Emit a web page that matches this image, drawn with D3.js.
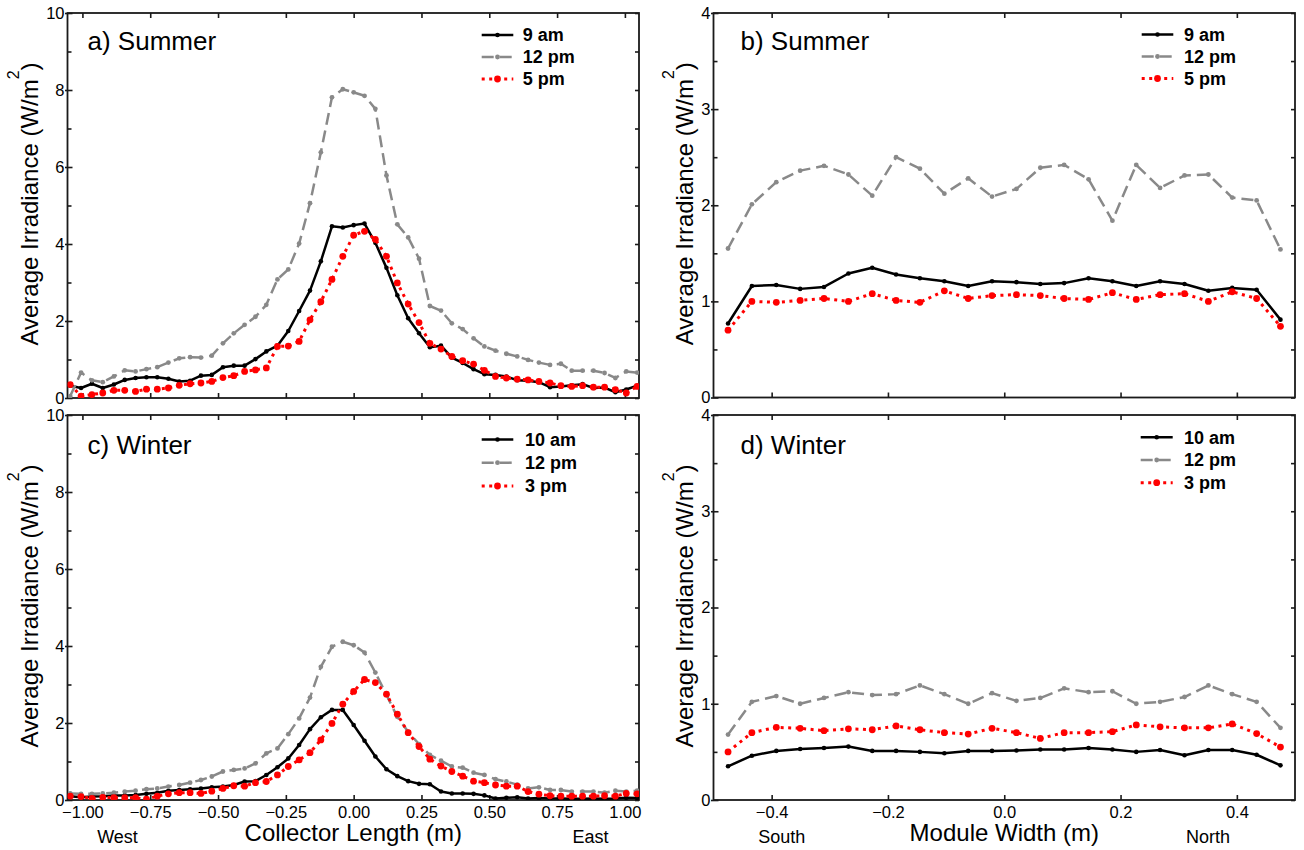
<!DOCTYPE html>
<html>
<head>
<meta charset="utf-8">
<script src="https://cdn.jsdelivr.net/npm/d3@7"></script>
<style>
  body { margin: 0; background: #fff; }
  text { font-family: "Liberation Sans", Arial, Helvetica, sans-serif; fill: #000; }
</style>
</head>
<body>
<svg id="fig" width="1304" height="850"></svg>
<script>
// Sample positions along the collector length (m), panels a and c
const lengthPos = [-1.045, -1.005, -0.965, -0.925, -0.884, -0.844, -0.804, -0.764, -0.724, -0.683,
  -0.643, -0.603, -0.563, -0.523, -0.482, -0.442, -0.402, -0.362, -0.322, -0.281,
  -0.241, -0.201, -0.161, -0.121, -0.080, -0.040, 0.000, 0.040, 0.080, 0.121,
  0.161, 0.201, 0.241, 0.281, 0.322, 0.362, 0.402, 0.442, 0.482, 0.523,
  0.563, 0.603, 0.643, 0.683, 0.724, 0.764, 0.804, 0.844, 0.884, 0.925,
  0.965, 1.005, 1.045];

// Sample positions across the module width (m), panels b and d
const widthPos = [-0.475, -0.434, -0.392, -0.351, -0.310, -0.268, -0.227, -0.186, -0.145, -0.103,
  -0.062, -0.021, 0.021, 0.062, 0.103, 0.145, 0.186, 0.227, 0.268, 0.310,
  0.351, 0.392, 0.434, 0.475];

// a) Summer, along collector length
const summerLength9am = [0.32, 0.26, 0.37, 0.26, 0.35, 0.47, 0.52, 0.54, 0.54, 0.50,
  0.43, 0.45, 0.58, 0.60, 0.80, 0.84, 0.84, 1.01, 1.21, 1.36,
  1.74, 2.26, 2.79, 3.55, 4.46, 4.43, 4.49, 4.53, 4.03, 3.38,
  2.67, 2.07, 1.68, 1.32, 1.36, 1.05, 0.91, 0.75, 0.62, 0.60,
  0.56, 0.46, 0.45, 0.41, 0.28, 0.30, 0.33, 0.36, 0.26, 0.27,
  0.15, 0.22, 0.32];
const summerLength12pm = [0.05, 0.66, 0.46, 0.41, 0.56, 0.72, 0.69, 0.75, 0.80, 0.92,
  1.03, 1.06, 1.05, 1.10, 1.42, 1.68, 1.90, 2.11, 2.42, 3.08,
  3.34, 4.01, 5.06, 6.38, 7.81, 8.02, 7.94, 7.85, 7.51, 5.78,
  4.51, 4.17, 3.62, 2.39, 2.27, 1.94, 1.79, 1.55, 1.34, 1.23,
  1.15, 1.08, 0.99, 0.92, 0.86, 0.89, 0.71, 0.71, 0.71, 0.65,
  0.52, 0.69, 0.66];
const summerLength5pm = [0.35, 0.05, 0.09, 0.13, 0.20, 0.20, 0.17, 0.23, 0.23, 0.26,
  0.33, 0.37, 0.39, 0.43, 0.53, 0.58, 0.69, 0.73, 0.78, 1.34,
  1.35, 1.47, 2.03, 2.50, 3.08, 3.68, 4.23, 4.33, 4.12, 3.68,
  2.99, 2.44, 1.96, 1.42, 1.27, 1.08, 0.97, 0.88, 0.72, 0.56,
  0.52, 0.49, 0.47, 0.43, 0.39, 0.32, 0.30, 0.32, 0.28, 0.28,
  0.22, 0.13, 0.30];

// b) Summer, across module width
const summerWidth9am = [0.77, 1.16, 1.17, 1.13, 1.15, 1.29, 1.35, 1.28, 1.24, 1.21,
  1.16, 1.21, 1.20, 1.18, 1.19, 1.24, 1.21, 1.16, 1.21, 1.18,
  1.11, 1.14, 1.12, 0.81];
const summerWidth12pm = [1.55, 2.01, 2.24, 2.36, 2.41, 2.32, 2.10, 2.50, 2.38, 2.12,
  2.28, 2.09, 2.17, 2.39, 2.42, 2.27, 1.84, 2.42, 2.18, 2.31,
  2.32, 2.08, 2.05, 1.54];
const summerWidth5pm = [0.70, 1.00, 0.99, 1.01, 1.03, 1.00, 1.08, 1.01, 0.99, 1.11,
  1.03, 1.06, 1.07, 1.06, 1.03, 1.02, 1.09, 1.02, 1.07, 1.08,
  1.00, 1.10, 1.03, 0.74];

// c) Winter, along collector length
const winterLength10am = [0.10, 0.07, 0.09, 0.10, 0.12, 0.12, 0.13, 0.16, 0.19, 0.24,
  0.26, 0.28, 0.30, 0.33, 0.35, 0.39, 0.48, 0.49, 0.65, 0.85,
  1.08, 1.43, 1.84, 2.15, 2.34, 2.34, 1.95, 1.54, 1.13, 0.80,
  0.62, 0.49, 0.42, 0.41, 0.22, 0.17, 0.17, 0.16, 0.12, 0.04,
  0.06, 0.07, 0.04, 0.05, 0.04, 0.04, 0.03, 0.03, 0.04, 0.03,
  0.04, 0.06, 0.05];
const winterLength12pm = [0.17, 0.16, 0.16, 0.17, 0.19, 0.22, 0.24, 0.28, 0.30, 0.35,
  0.39, 0.45, 0.52, 0.61, 0.74, 0.78, 0.82, 0.95, 1.21, 1.34,
  1.71, 2.12, 2.66, 3.46, 3.98, 4.11, 4.02, 3.83, 3.31, 2.73,
  2.16, 1.77, 1.45, 1.17, 1.02, 0.87, 0.84, 0.71, 0.65, 0.54,
  0.48, 0.40, 0.30, 0.33, 0.26, 0.26, 0.22, 0.22, 0.22, 0.19,
  0.24, 0.22, 0.24];
const winterLength3pm = [0.10, 0.09, 0.04, 0.07, 0.06, 0.06, 0.06, 0.02, 0.10, 0.16,
  0.19, 0.19, 0.17, 0.23, 0.30, 0.37, 0.36, 0.45, 0.48, 0.65,
  0.87, 1.04, 1.23, 1.56, 1.99, 2.49, 2.82, 3.13, 3.05, 2.75,
  2.23, 1.75, 1.39, 1.06, 0.88, 0.74, 0.62, 0.49, 0.45, 0.39,
  0.36, 0.36, 0.22, 0.15, 0.11, 0.10, 0.10, 0.10, 0.10, 0.11,
  0.10, 0.17, 0.16];

// d) Winter, across module width
const winterWidth10am = [0.35, 0.46, 0.51, 0.53, 0.54, 0.555, 0.51, 0.51, 0.50, 0.485,
  0.51, 0.51, 0.515, 0.525, 0.525, 0.54, 0.525, 0.50, 0.52, 0.465,
  0.52, 0.52, 0.47, 0.36];
const winterWidth12pm = [0.68, 1.02, 1.08, 1.00, 1.06, 1.12, 1.09, 1.10, 1.19, 1.10,
  1.00, 1.11, 1.03, 1.06, 1.16, 1.12, 1.13, 1.00, 1.02, 1.07,
  1.19, 1.10, 1.02, 0.75];
const winterWidth3pm = [0.50, 0.70, 0.755, 0.745, 0.72, 0.74, 0.73, 0.77, 0.73, 0.70,
  0.685, 0.745, 0.70, 0.64, 0.70, 0.70, 0.71, 0.78, 0.76, 0.75,
  0.75, 0.79, 0.69, 0.55];

const summerTimes = ["9 am", "12 pm", "5 pm"];
const winterTimes = ["10 am", "12 pm", "3 pm"];

const lengthTicks = [-1, -0.75, -0.5, -0.25, 0, 0.25, 0.5, 0.75, 1];
const widthTicks = [-0.4, -0.2, 0, 0.2, 0.4];
const lengthIrrTicks = [0, 2, 4, 6, 8, 10];
const lengthIrrMinor = [1, 3, 5, 7, 9];
const widthIrrTicks = [0, 1, 2, 3, 4];
const widthIrrMinor = [0.5, 1.5, 2.5, 3.5];

// Line style for the three times of day (same order in every panel)
const seriesStyle = [
  { color: "#000000", dash: null,    width: 2.5, r: 2.3 },
  { color: "#898989", dash: "12,6",  width: 2.5, r: 2.4 },
  { color: "#ff0000", dash: "3,4.5", width: 3,   r: 3.4 }
];

const panels = [
  { key: "a", title: "a) Summer", box: [67.5, 13, 639, 398], xDomain: [-1.055, 1.052], yMax: 10,
    xs: lengthPos, series: [summerLength9am, summerLength12pm, summerLength5pm], names: summerTimes,
    xTicks: lengthTicks, xFmt: ".2f", yTicks: lengthIrrTicks, yMinor: lengthIrrMinor, showX: false,
    titleXY: [87.5, 49.5], legend: { x0: 481.7, x1: 513.3, tx: 522.7, ys: [35, 57, 79] }, yLabelX: 38 },
  { key: "b", title: "b) Summer", box: [713.5, 13, 1295, 397.5], xDomain: [-0.5, 0.5], yMax: 4,
    xs: widthPos, series: [summerWidth9am, summerWidth12pm, summerWidth5pm], names: summerTimes,
    xTicks: widthTicks, xFmt: ".1f", yTicks: widthIrrTicks, yMinor: widthIrrMinor, showX: false,
    titleXY: [740.5, 49.5], legend: { x0: 1141.7, x1: 1173.3, tx: 1184, ys: [34.5, 56.5, 78.5] }, yLabelX: 692.5 },
  { key: "c", title: "c) Winter", box: [67.5, 415, 639, 800], xDomain: [-1.055, 1.052], yMax: 10,
    xs: lengthPos, series: [winterLength10am, winterLength12pm, winterLength3pm], names: winterTimes,
    xTicks: lengthTicks, xFmt: ".2f", yTicks: lengthIrrTicks, yMinor: lengthIrrMinor, showX: true,
    titleXY: [87.5, 454], legend: { x0: 481.7, x1: 513.3, tx: 525, ys: [439.5, 462.7, 486] }, yLabelX: 38 },
  { key: "d", title: "d) Winter", box: [713.5, 415, 1295, 800], xDomain: [-0.5, 0.5], yMax: 4,
    xs: widthPos, series: [winterWidth10am, winterWidth12pm, winterWidth3pm], names: winterTimes,
    xTicks: widthTicks, xFmt: ".1f", yTicks: widthIrrTicks, yMinor: widthIrrMinor, showX: true,
    titleXY: [740.5, 454], legend: { x0: 1140.7, x1: 1172.7, tx: 1184, ys: [437.3, 460, 482.7] }, yLabelX: 692.5 }
];

const svg = d3.select("#fig");
svg.append("rect").attr("width", 1304).attr("height", 850).attr("fill", "#fff");

const frameColor = "#1a1a1a";

panels.forEach(p => {
  const [L, T, R, B] = p.box;
  const x = d3.scaleLinear().domain(p.xDomain).range([L, R]);
  const y = d3.scaleLinear().domain([0, p.yMax]).range([B, T]);

  // clip region for the data
  svg.append("clipPath").attr("id", "clip-" + p.key)
    .append("rect").attr("x", L).attr("y", T).attr("width", R - L).attr("height", B - T);

  const styleAxis = g => {
    g.select(".domain").remove();
    g.selectAll(".tick line").attr("stroke", frameColor).attr("stroke-width", 1.6);
    g.selectAll(".tick text").attr("font-size", 16.5).attr("fill", "#111")
      .style("font-family", "'Liberation Sans', Arial, sans-serif");
  };

  // bottom axis (major ticks inward, labels only on lower row)
  svg.append("g").attr("transform", `translate(0,${B})`)
    .call(d3.axisBottom(x).tickValues(p.xTicks).tickSizeInner(-5).tickSizeOuter(0).tickPadding(6)
      .tickFormat(p.showX ? d3.format(p.xFmt) : ""))
    .call(styleAxis);

  // top axis ticks
  svg.append("g").attr("transform", `translate(0,${T})`)
    .call(d3.axisTop(x).tickValues(p.xTicks).tickSizeInner(-5).tickSizeOuter(0).tickFormat(""))
    .call(styleAxis);

  // left axis: major ticks cross the frame slightly, minor ticks inside
  svg.append("g").attr("transform", `translate(${L},0)`)
    .call(d3.axisLeft(y).tickValues(p.yTicks).tickSizeInner(-5).tickSizeOuter(0).tickPadding(3)
      .tickFormat(d3.format("d")))
    .call(styleAxis)
    .call(g => g.selectAll(".tick line").attr("x1", -2.5));
  svg.append("g").attr("transform", `translate(${L},0)`)
    .call(d3.axisLeft(y).tickValues(p.yMinor).tickSizeInner(-4).tickSizeOuter(0).tickFormat(""))
    .call(styleAxis);

  // right axis ticks at every major and minor value
  svg.append("g").attr("transform", `translate(${R},0)`)
    .call(d3.axisRight(y).tickValues(p.yTicks.concat(p.yMinor)).tickSizeInner(-4).tickSizeOuter(0).tickFormat(""))
    .call(styleAxis);

  // frame
  svg.append("rect").attr("x", L).attr("y", T).attr("width", R - L).attr("height", B - T)
    .attr("fill", "none").attr("stroke", frameColor).attr("stroke-width", 1.8);

  // series lines and markers
  const plot = svg.append("g").attr("clip-path", `url(#clip-${p.key})`);
  p.series.forEach((vals, k) => {
    const st = seriesStyle[k];
    const pts = vals.map((v, i) => [p.xs[i], v]);
    const line = d3.line().x(d => x(d[0])).y(d => y(d[1]));
    plot.append("path").datum(pts)
      .attr("d", line)
      .attr("fill", "none")
      .attr("stroke", st.color)
      .attr("stroke-width", st.width)
      .attr("stroke-linejoin", "round")
      .attr("stroke-dasharray", st.dash);
    plot.append("g").selectAll("circle").data(pts).join("circle")
      .attr("cx", d => x(d[0])).attr("cy", d => y(d[1]))
      .attr("r", st.r).attr("fill", st.color);
  });

  // panel title
  svg.append("text").attr("x", p.titleXY[0]).attr("y", p.titleXY[1])
    .attr("font-size", 26).text(p.title);

  // legend
  const lg = svg.append("g");
  p.names.forEach((name, k) => {
    const st = seriesStyle[k];
    const yy = p.legend.ys[k];
    lg.append("line").attr("x1", p.legend.x0).attr("x2", p.legend.x1).attr("y1", yy).attr("y2", yy)
      .attr("stroke", st.color).attr("stroke-width", st.width).attr("stroke-dasharray", st.dash);
    lg.append("circle").attr("cx", (p.legend.x0 + p.legend.x1) / 2).attr("cy", yy)
      .attr("r", st.r).attr("fill", st.color);
    lg.append("text").attr("x", p.legend.tx).attr("y", yy).attr("dy", "0.36em")
      .attr("font-size", 18).attr("font-weight", "bold").text(name);
  });

  // y-axis title with superscript unit
  const cy = (T + B) / 2 - 1.5;
  const yl = svg.append("text")
    .attr("transform", `translate(${p.yLabelX},${cy}) rotate(-90)`)
    .attr("text-anchor", "middle").attr("font-size", 24);
  yl.append("tspan").text("Average Irradiance (W/m");
  yl.append("tspan").attr("dy", -19).attr("font-size", 16).text("2");
  yl.append("tspan").attr("dy", 19).text(")");
});

// x-axis titles and orientation labels under the lower panels
const bottomLabels = [
  { text: "Collector Length (m)", x: 353.3, size: 24 },
  { text: "Module Width (m)", x: 1004.3, size: 24 },
  { text: "West", x: 117.5, size: 18 },
  { text: "East", x: 590.5, size: 18 },
  { text: "South", x: 781.7, size: 18 },
  { text: "North", x: 1208, size: 18 }
];
svg.selectAll("text.bottom-label").data(bottomLabels).join("text")
  .attr("class", "bottom-label")
  .attr("x", d => d.x).attr("y", d => d.size === 24 ? 841 : 842.5)
  .attr("text-anchor", "middle").attr("font-size", d => d.size)
  .text(d => d.text);
</script>
</body>
</html>
